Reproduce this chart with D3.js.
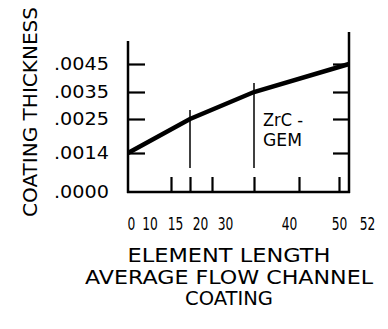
<!DOCTYPE html>
<html>
<head>
<meta charset="utf-8">
<script src="https://cdn.jsdelivr.net/npm/d3@7"></script>
<style>
  body { margin: 0; background: white; }
  text { font-family: "DejaVu Sans", sans-serif; fill: #000; }
</style>
</head>
<body>
<div id="chart"></div>
<script>
// Data ==========================
var xTicks = [0, 10, 15, 20, 30, 40, 50, 52];
var xTickLabels = ["0", "10", "15", "20", "30", "40", "50", "52"];
var yTicks = [0, 0.0014, 0.0025, 0.0035, 0.0045];
var yTickLabels = [".0000", ".0014", ".0025", ".0035", ".0045"];
var lengths = [0, 15, 30, 52];
var thickness = [0.0014, 0.0025, 0.0035, 0.0045];
var seriesName = ["ZrC -", "GEM"];
var xTitle = ["ELEMENT LENGTH", "AVERAGE FLOW CHANNEL", "COATING"];
var yTitle = "COATING THICKNESS";

// Layout (the drawing's axes are not drawn to a linear scale)
var width = 388, height = 329;
var xTickPos = [128, 171, 190, 212, 254, 299, 339, 349];
var xLabelPos = [131.5, 150, 175.5, 200.5, 225.5, 289.5, 339.5, 367.5];
var yTickPos = [192, 153, 119, 92, 64];

var svg = d3.select("#chart").append("svg")
    .attr("width", width)
    .attr("height", height);

var x = d3.scaleLinear().domain(xTicks).range(xTickPos);
var xLab = d3.scaleOrdinal().domain(xTicks).range(xLabelPos);
var y = d3.scaleLinear().domain(yTicks).range(yTickPos);

var x0 = x(0), x1 = x(52), yb = y(0);

// Frame lines
svg.append("line").attr("x1", x0).attr("x2", x0).attr("y1", 41).attr("y2", yb + 1)
    .attr("stroke", "#000").attr("stroke-width", 2.5);
svg.append("line").attr("x1", x0 - 1).attr("x2", x1 + 1).attr("y1", yb).attr("y2", yb)
    .attr("stroke", "#000").attr("stroke-width", 2.5);
svg.append("line").attr("x1", x1).attr("x2", x1).attr("y1", 32).attr("y2", yb + 1)
    .attr("stroke", "#000").attr("stroke-width", 2.5);

// Ticks, using d3 axes with labels off
var yT = yTicks.filter(d => d > 0);
var xT = xTicks.filter(d => d > 0 && d < 52);

function noDomain(g) {
    g.select(".domain").remove();
    g.selectAll(".tick line").attr("stroke", "#000").attr("stroke-width", 2.2);
}

svg.append("g")
    .attr("transform", `translate(${x0},0)`)
    .call(d3.axisRight(y).tickValues(yT).tickSize(17).tickFormat(""))
    .call(noDomain);

svg.append("g")
    .attr("transform", `translate(${x1},0)`)
    .call(d3.axisLeft(y).tickValues(yT).tickSize(16).tickFormat(""))
    .call(noDomain);

svg.append("g")
    .attr("transform", `translate(0,${yb})`)
    .call(d3.axisTop(x).tickValues(xT).tickSize(15).tickFormat(""))
    .call(noDomain);

// Drop lines at interior points
var pts = lengths.map((d, i) => [d, thickness[i]]);
var inner = pts.filter(d => d[0] > 0 && d[0] < 52);
svg.selectAll(".drop").data(inner).enter().append("line")
    .attr("class", "drop")
    .attr("x1", d => x(d[0])).attr("x2", d => x(d[0]))
    .attr("y1", d => y(d[1]) - 9).attr("y2", yb - 24)
    .attr("stroke", "#000").attr("stroke-width", 1.5);

// Curve
var line = d3.line().x(d => x(d[0])).y(d => y(d[1]));
svg.append("path")
    .datum(pts)
    .attr("d", line)
    .attr("fill", "none")
    .attr("stroke", "#000")
    .attr("stroke-width", 4.5);

// Y tick labels
svg.selectAll(".ylab").data(yTicks).enter().append("text")
    .attr("class", "ylab")
    .attr("x", 54)
    .attr("y", d => y(d) + 6)
    .attr("font-size", 17)
    .attr("textLength", 55)
    .attr("lengthAdjust", "spacingAndGlyphs")
    .text((d, i) => yTickLabels[i]);

// X tick labels
svg.selectAll(".xlab").data(xTicks).enter().append("text")
    .attr("class", "xlab")
    .attr("x", d => xLab(d))
    .attr("y", 230)
    .attr("text-anchor", "middle")
    .attr("font-size", 18)
    .attr("textLength", (d, i) => xTickLabels[i].length * 7.8)
    .attr("lengthAdjust", "spacingAndGlyphs")
    .text((d, i) => xTickLabels[i]);

// Series label
var labW = [40, 39];
svg.selectAll(".slab").data(seriesName).enter().append("text")
    .attr("class", "slab")
    .attr("x", 263)
    .attr("y", (d, i) => 126 + i * 20)
    .attr("font-size", 18)
    .attr("textLength", (d, i) => labW[i])
    .attr("lengthAdjust", "spacingAndGlyphs")
    .text(d => d);

// X title
var tW = [203, 288, 88];
svg.selectAll(".xtitle").data(xTitle).enter().append("text")
    .attr("class", "xtitle")
    .attr("x", 229)
    .attr("y", (d, i) => 262 + i * 21.5)
    .attr("text-anchor", "middle")
    .attr("font-size", 19)
    .attr("textLength", (d, i) => tW[i])
    .attr("lengthAdjust", "spacingAndGlyphs")
    .text(d => d);

// Y title
svg.append("text")
    .attr("transform", "translate(37,112) rotate(-90)")
    .attr("text-anchor", "middle")
    .attr("font-size", 20)
    .attr("textLength", 210)
    .attr("lengthAdjust", "spacingAndGlyphs")
    .text(yTitle);
</script>
</body>
</html>
